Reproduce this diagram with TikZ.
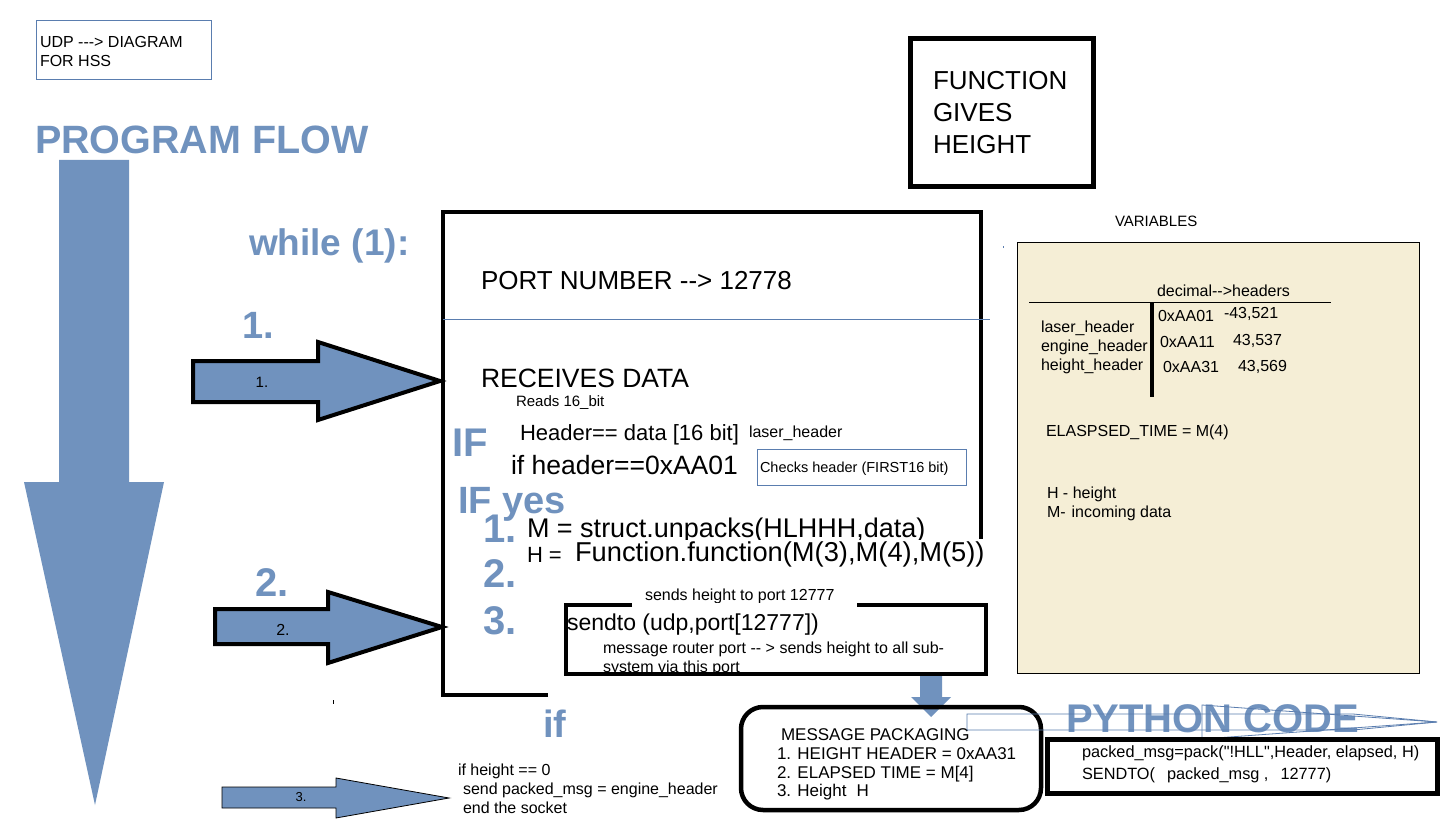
\documentclass[tikz,border=0pt]{standalone}
\usepackage{fontspec}
\setmainfont{Liberation Sans}[Ligatures=TeXOff]
\definecolor{flow}{RGB}{112,146,190}
\definecolor{flowline}{RGB}{90,125,175}
\definecolor{beige}{RGB}{245,238,214}
\newcommand\fsz[1]{\fontsize{#1}{#1}\selectfont}
\begin{document}
\begin{tikzpicture}[x=1pt,y=-1pt,
  t/.style={anchor=base west,inner sep=0pt,outer sep=0pt},
  big/.style={t,text=flow,font=\bfseries\fsz{#1}},
  thick box/.style={draw=black,line width=4pt,miter limit=10},
  thin blue/.style={draw=flowline,line width=0.8pt},
  fat arrow/.style={fill=flow,draw=black,line width=4pt,line join=miter},
  slim arrow/.style={fill=flow,draw=black,line width=0.8pt,line join=miter}]
\useasboundingbox[fill=white] (0,0) rectangle (1449,829);

% title box
\draw[thin blue] (36,20) rectangle (211,79);
\node[t,font=\fsz{16}] (udp1) at (40,48) {UDP ---> DIAGRAM};
\node[t,font=\fsz{16}] (udp2) at (40,67) {FOR HSS};

% program flow
\node[big=39.5] (pflow) at (35,154) {PROGRAM FLOW};
\fill[flow] (59,160) -- (129,160) -- (129,482) -- (164,482) -- (95,805) -- (24,482) -- (59,482) -- cycle;
\node[big=37] (while) at (249,255) {while (1):};

% step arrows
\node[big=38] (one) at (242,338) {1.};
\node[big=40] (two) at (255,596) {2.};
\draw[fat arrow] (193,361) -- (318,361) -- (318,342) -- (440,381) -- (318,420) -- (318,402) -- (193,402) -- cycle;
\draw[fat arrow] (215,609) -- (328,609) -- (328,592) -- (442,627) -- (328,663) -- (328,644) -- (215,644) -- cycle;
\draw[slim arrow] (222,787) -- (336,787) -- (336,778) -- (449,798) -- (336,818) -- (336,808) -- (222,808) -- cycle;
\node[font=\fsz{15},inner sep=0pt] (a1) at (262,382) {1.};
\node[font=\fsz{16},inner sep=0pt] (a2) at (283,630) {2.};
\node[font=\fsz{13},inner sep=0pt] (a3) at (301,797) {3.};
\fill[black] (332.5,700) rectangle (334,704);

% main box
\draw[thick box] (548,695) -- (443,695) -- (443,212) -- (981,212) -- (981,539);
\draw[thin blue] (443,319) -- (990,319);
\fill[flowline] (1002.5,246) rectangle (1003.5,248);
\node[t,font=\fsz{26}] (port) at (481,290) {PORT NUMBER --> 12778};
\node[t,font=\fsz{26.5}] (recv) at (481,387) {RECEIVES DATA};
\node[t,font=\fsz{15}] (reads) at (516,406) {Reads 16\_bit};
\node[t,font=\fsz{22}] (hdr) at (520,440) {Header== data [16 bit]};
\node[t,font=\fsz{16}] (laser) at (749,437) {laser\_header};
\node[t,font=\fsz{26.5}] (ifh) at (511,474) {if header==0xAA01};
\draw[thin blue] (757,449) rectangle (966,485);
\node[t,font=\fsz{14.5}] (checks) at (760,472) {Checks header (FIRST16 bit)};
\node[big=40] (IF) at (452,456) {IF};
\node[big=38] (IFyes) at (458,513) {IF yes};
\node[big=40] (n1) at (483,542) {1.};
\node[big=40] (n2) at (483,587) {2.};
\node[big=40] (n3) at (483,634) {3.};
\node[t,font=\fsz{27}] (mline) at (527,537) {M = struct.unpacks(HLHHH,data)};
\fill[white] (560,539.5) rectangle (990,544);
\node[t,font=\fsz{22}] (hline) at (527,562) {H =};
\node[t,font=\fsz{27.3}] (fline) at (575,561) {Function.function(M(3),M(4),M(5))};

% sendto box
\node[t,font=\fsz{16}] (sends) at (645,600) {sends height to port 12777};
\fill[white] (632,602.5) rectangle (857,609);
\node[t,font=\fsz{23}] (sendto) at (567,630) {sendto (udp,port[12777])};
\node[t,font=\fsz{16}] (router1) at (603,653) {message router port -- > sends height to all sub-};
\node[t,font=\fsz{16}] (router2) at (603,672) {system via this port};
\draw[thick box] (632,605) -- (566,605) -- (566,674) -- (986,674) -- (986,605) -- (857,605);

% arrow to packaging
\fill[flow] (920,676) -- (942,676) -- (942,697) -- (951,697) -- (931,717) -- (911,697) -- (920,697) -- cycle;

% if branch
\node[big=38] (iflow) at (543,737) {if};
\node[t,font=\fsz{16}] (ih1) at (458,775) {if height == 0};
\node[t,font=\fsz{16}] (ih2) at (463,794) {send packed\_msg = engine\_header};
\node[t,font=\fsz{16}] (ih3) at (463,813) {end the socket};

% message packaging
\draw[line width=4.5pt,rounded corners=22pt] (741,707) rectangle (1041,810);
\node[t,font=\fsz{17}] (mp0) at (781,740) {MESSAGE PACKAGING};
\node[t,font=\fsz{17}] (mp1) at (777,759) {1. HEIGHT HEADER = 0xAA31};
\node[t,font=\fsz{17}] (mp2) at (777,778) {2. ELAPSED TIME = M[4]};
\node[t,font=\fsz{17}] (mp3) at (777,796) {3. Height\hspace{10pt}H};

% python code
\node[big=40] (py) at (1066,732) {PYTHON CODE};
\draw[thin blue] (967,714) -- (1353,714) -- (1437,722) -- (1353,730) -- (967,730) -- cycle;
\draw[thin blue] (1202,705) -- (1353,716) -- (1437,722) -- (1353,728) -- (1202,739) -- cycle;
\draw[line width=5pt] (1047,739) rectangle (1437,793);
\node[t,font=\fsz{16.3}] (pk1) at (1082,757) {packed\_msg=pack("!HLL",Header, elapsed, H)};
\node[t,font=\fsz{16.3}] (pk2) at (1082,779) {SENDTO(\hspace{12pt}packed\_msg ,\hspace{12pt}12777)};

% function box
\draw[line width=5pt] (910,39) rectangle (1093,187);
\node[t,font=\fsz{26}] (fn1) at (933,90) {FUNCTION};
\node[t,font=\fsz{26}] (fn2) at (933,122) {GIVES};
\node[t,font=\fsz{26}] (fn3) at (933,154) {HEIGHT};

% variables
\node[t,font=\fsz{15}] (vars) at (1115,227) {VARIABLES};
\draw[fill=beige,draw=black,line width=1pt] (1017,243) rectangle (1419,673);
\draw[line width=1pt] (1029,302) -- (1331,302);
\draw[line width=4pt] (1152,302) -- (1152,397);
\node[t,font=\fsz{16}] (dec) at (1157,297) {decimal-->headers};
\node[t,font=\fsz{16}] (v1) at (1041,332) {laser\_header};
\node[t,font=\fsz{16}] (v2) at (1041,351) {engine\_header};
\node[t,font=\fsz{16}] (v3) at (1041,370) {height\_header};
\node[t,font=\fsz{16}] (h1) at (1158,321) {0xAA01};
\node[t,font=\fsz{16}] (d1) at (1224,318) {-43,521};
\node[t,font=\fsz{16}] (h2) at (1160,347) {0xAA11};
\node[t,font=\fsz{16}] (d2) at (1233,345) {43,537};
\node[t,font=\fsz{16}] (h3) at (1163,372) {0xAA31};
\node[t,font=\fsz{16}] (d3) at (1238,371) {43,569};
\node[t,font=\fsz{16}] (el) at (1046,436) {ELASPSED\_TIME = M(4)};
\node[t,font=\fsz{16}] (hh) at (1047,498) {H - height};
\node[t,font=\fsz{16}] (mm) at (1047,517) {M-\hspace{6pt}incoming data};
\end{tikzpicture}
\end{document}
